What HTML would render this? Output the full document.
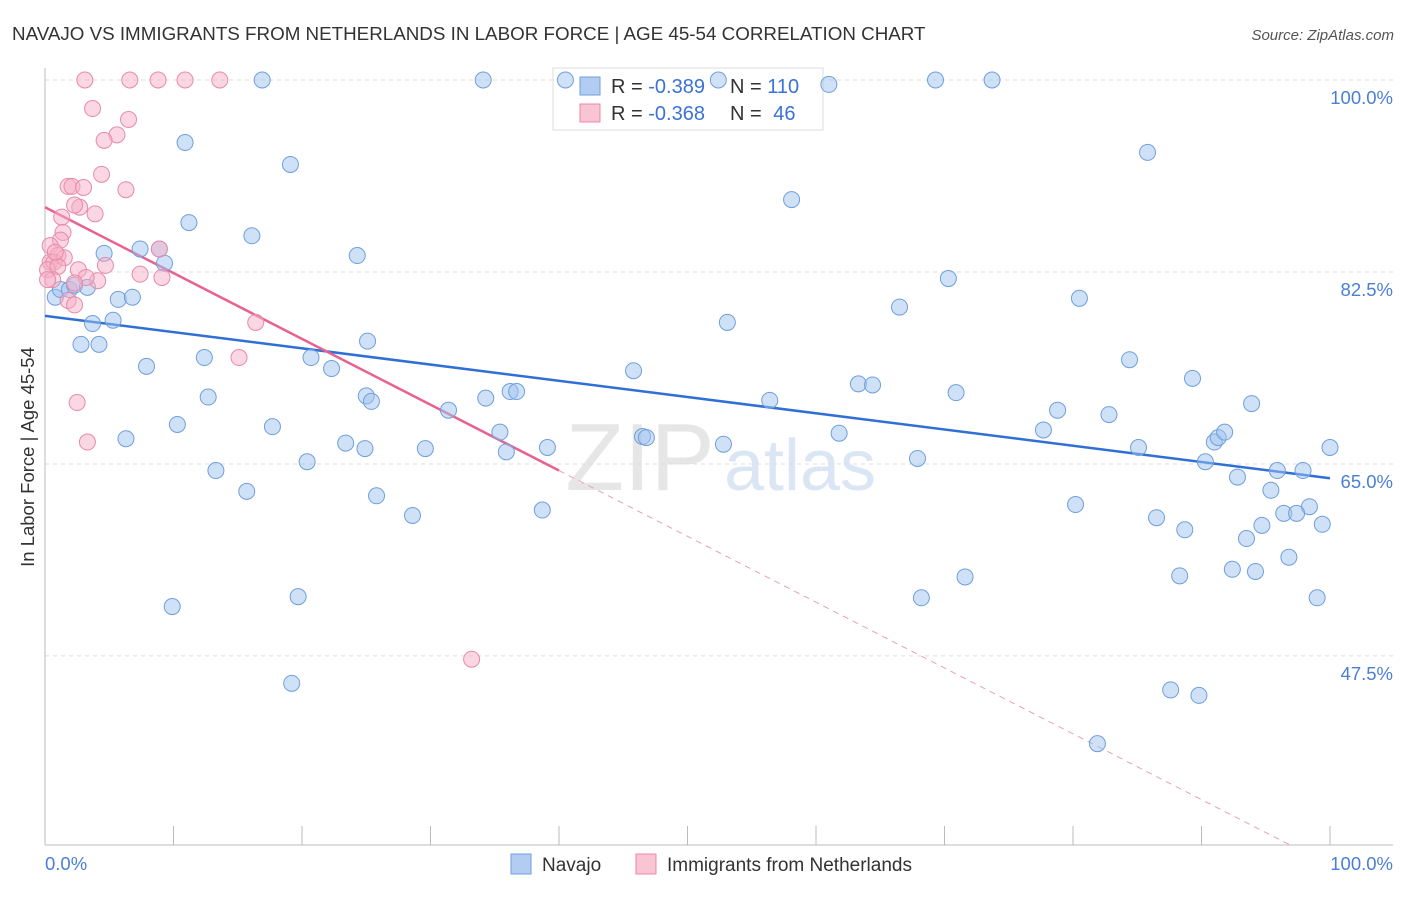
<!DOCTYPE html>
<html><head><meta charset="utf-8"><style>
body{margin:0;background:#fff;font-family:"Liberation Sans",sans-serif;}
svg text{font-family:"Liberation Sans",sans-serif;}
</style></head><body>
<svg id="chart" width="1406" height="892" viewBox="0 0 1406 892" xmlns="http://www.w3.org/2000/svg">
<text x="12" y="40" font-size="18.8" fill="#333">NAVAJO VS IMMIGRANTS FROM NETHERLANDS IN LABOR FORCE | AGE 45-54 CORRELATION CHART</text>
<text x="1394" y="40" font-size="15" fill="#555" font-style="italic" text-anchor="end">Source: ZipAtlas.com</text>
<text x="640" y="490" font-size="96" fill="#e6e6e6" font-family="Liberation Serif" text-anchor="middle">ZIP</text>
<text x="800" y="490" font-size="72" fill="#dbe6f5" text-anchor="middle">atlas</text>
<g id="grid"></g><g id="axes"></g>
<g>
<rect x="553" y="68" width="270" height="62" fill="#fff" stroke="#ddd"/>
<rect x="580" y="77" width="20" height="18" fill="#b3cdf2" stroke="#6f9fdc"/>
<rect x="580" y="104" width="20" height="18" fill="#f9c4d3" stroke="#e88aa8"/>
<text x="611" y="93" font-size="20" fill="#333">R = <tspan fill="#3a72d8">-0.389</tspan></text>
<text x="730" y="93" font-size="20" fill="#333">N = <tspan fill="#3a72d8">110</tspan></text>
<text x="611" y="120" font-size="20" fill="#333">R = <tspan fill="#3a72d8">-0.368</tspan></text>
<text x="730" y="120" font-size="20" fill="#333">N =  <tspan fill="#3a72d8" dx="6">46</tspan></text>
</g>
<g id="trend"></g><g id="points"></g>
<text transform="translate(34,457) rotate(-90)" font-size="18.5" fill="#333" text-anchor="middle">In Labor Force | Age 45-54</text>
<text x="45" y="870" font-size="18.5" fill="#4a7fd6">0.0%</text>
<text x="1393" y="870" font-size="18.5" fill="#4a7fd6" text-anchor="end">100.0%</text>
<g>
<rect x="511" y="854" width="20" height="20" fill="#b3cdf2" stroke="#6f9fdc"/>
<text x="542" y="871" font-size="19" fill="#333">Navajo</text>
<rect x="636" y="854" width="20" height="20" fill="#f9c4d3" stroke="#e88aa8"/>
<text x="667" y="871" font-size="19" fill="#333">Immigrants from Netherlands</text>
</g>
</svg>
<script>
const yTicks=[100,82.5,65,47.5];
const yTickLabels=["100.0%","82.5%","65.0%","47.5%"];
const xTicks=[0,10,20,30,40,50,60,70,80,90,100];
const navajoX=[16.9,34.1,40.5,52.4,61.0,69.3,73.7,10.9,19.1,85.8,58.1,11.2,16.1,4.6,7.4,8.9,9.3,24.3,70.3,0.8,1.2,1.9,2.3,3.3,5.7,6.8,3.7,5.3,53.1,66.5,80.5,2.8,4.2,25.1,7.9,12.4,20.7,22.3,45.8,84.4,63.3,64.4,70.9,89.3,12.7,25.0,25.4,34.3,36.2,36.7,31.4,56.4,78.8,82.8,93.9,10.3,17.7,6.3,23.4,24.9,29.6,35.4,35.9,39.1,46.5,46.8,52.8,61.8,77.7,85.1,91.0,91.3,91.8,100,13.3,15.7,20.4,25.8,28.6,38.7,67.9,80.2,86.5,88.7,90.3,92.8,95.9,97.9,95.4,98.4,96.4,97.4,94.7,93.5,99.4,96.8,92.4,94.2,88.3,71.6,9.9,19.7,68.2,99.0,19.2,87.6,89.8,81.9];
const navajoY=[100,100,100,100,99.6,100,100,94.3,92.3,93.4,89.1,87.0,85.8,84.2,84.6,84.6,83.3,84.0,81.9,80.2,80.9,80.9,81.3,81.1,80.0,80.2,77.8,78.1,77.9,79.3,80.1,75.9,75.9,76.2,73.9,74.7,74.7,73.7,73.5,74.5,72.3,72.2,71.5,72.8,71.1,71.2,70.7,71.0,71.6,71.6,69.9,70.8,69.9,69.5,70.5,68.6,68.4,67.3,66.9,66.4,66.4,67.9,66.1,66.5,67.5,67.4,66.8,67.8,68.1,66.5,67.0,67.4,67.9,66.5,64.4,62.5,65.2,62.1,60.3,60.8,65.5,61.3,60.1,59.0,65.2,63.8,64.4,64.4,62.6,61.1,60.5,60.5,59.4,58.2,59.5,56.5,55.4,55.2,54.8,54.7,52.0,52.9,52.8,52.8,45.0,44.4,43.9,39.5];
const nethX=[3.1,6.6,8.8,10.9,13.6,3.7,6.5,5.6,4.6,4.4,6.3,1.8,2.1,3.0,2.7,3.9,2.3,1.3,1.4,1.2,0.4,1.0,0.4,0.7,1.5,0.2,2.6,1.0,7.4,4.7,9.1,4.1,0.6,3.2,2.3,1.8,2.3,16.4,15.1,2.5,3.3,33.2,8.9,0.2,0.8];
const nethY=[100,100,100,100,100,97.4,96.4,95.0,94.5,91.4,90.0,90.3,90.3,90.2,88.4,87.8,88.6,87.5,86.1,85.4,84.9,84.0,83.4,83.4,83.8,82.7,82.7,83.0,82.3,83.1,82.0,81.7,81.8,82.0,81.5,79.9,79.5,77.9,74.7,70.6,67.0,47.2,84.6,81.8,84.3];
const navajoTrend=[78.5,63.7];
const nethTrend=[88.4,-0.6];
const nethSolidEnd=40, nethDashEnd=96.9;

const X0=45,X1=1330,Y100=80,PPU=10.97;
const sx=v=>X0+(X1-X0)*v/100;
const sy=v=>Y100+(100-v)*PPU;
const NS="http://www.w3.org/2000/svg";
function mk(tag,parent,attrs){const e=document.createElementNS(NS,tag);for(const k in attrs)e.setAttribute(k,attrs[k]);document.getElementById(parent).appendChild(e);return e;}

yTicks.forEach((t,i)=>{
  const l=mk('line','grid',{x1:X0,x2:1393,y1:sy(t),y2:sy(t),stroke:'#ddd','stroke-dasharray':'4,4'});
  
  
  const tx=mk('text','grid',{x:1393,y:sy(t)+24,'font-size':18.5,fill:'#4a7fd6','text-anchor':'end'});
  tx.textContent=yTickLabels[i];
  
  
});
const ya=mk('line','axes',{x1:X0,x2:X0,y1:68,y2:845,stroke:'#bbb'});


const xa=mk('line','axes',{x1:X0,x2:1393,y1:845,y2:845,stroke:'#bbb'});


xTicks.forEach(t=>{
  const l=mk('line','axes',{x1:sx(t),x2:sx(t),y1:826,y2:845,stroke:'#bbb'});
  
  
});

const bt=mk('line','trend',{x1:sx(0),y1:sy(navajoTrend[0]),x2:sx(100),y2:sy(navajoTrend[1]),stroke:'#2f6fd6','stroke-width':2.5});


const pf=x=>nethTrend[0]+nethTrend[1]*x;
const pt=mk('line','trend',{x1:sx(0),y1:sy(pf(0)),x2:sx(nethSolidEnd),y2:sy(pf(nethSolidEnd)),stroke:'#e8628f','stroke-width':2.5});


const pd=mk('line','trend',{x1:sx(nethSolidEnd),y1:sy(pf(nethSolidEnd)),x2:sx(nethDashEnd),y2:sy(pf(nethDashEnd)),stroke:'#e8a0b8','stroke-width':1,'stroke-dasharray':'6,5'});



navajoX.forEach((x,i)=>{
  const c=mk('circle','points',{cx:sx(x),cy:sy(navajoY[i]),r:8,fill:'rgba(160,195,240,0.5)',stroke:'#6f9fdc','stroke-width':1});
  
  
});
nethX.forEach((x,i)=>{
  const c=mk('circle','points',{cx:sx(x),cy:sy(nethY[i]),r:8,fill:'rgba(245,175,198,0.5)',stroke:'#e88aa8','stroke-width':1});
  
  
});
</script>
</body></html>
